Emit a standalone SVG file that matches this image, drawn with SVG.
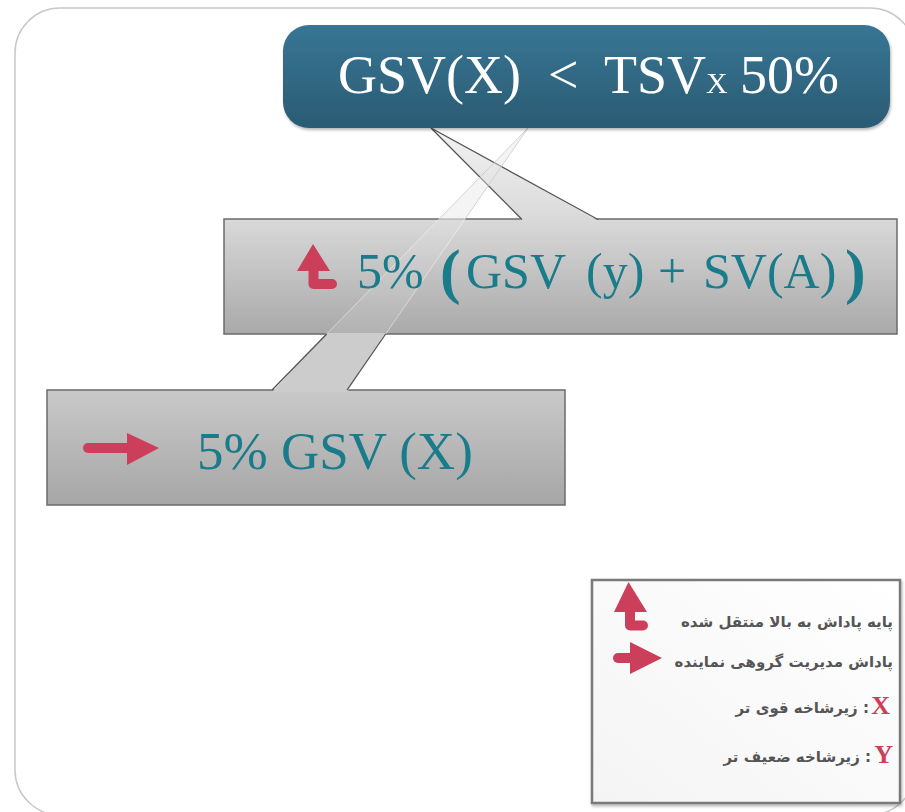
<svg xmlns="http://www.w3.org/2000/svg" width="905" height="812" viewBox="0 0 905 812">
<style>
.serif{font-family:"Liberation Serif","Times New Roman",serif}
.teal{fill:#1a7b8b}
.fa{font-family:"DejaVu Sans","Noto Sans",sans-serif;font-weight:bold;font-size:15px;fill:#555}
.red{fill:#cc3f5a}
.redS{stroke:#cc3f5a;fill:none}
.edge{stroke:#555;stroke-width:1.3;fill:none}
.boxS{stroke:#6b6b6b;stroke-width:1.5}
</style>
<defs>
<linearGradient id="gTop" x1="0" y1="0" x2="0" y2="1"><stop offset="0" stop-color="#377694"/><stop offset="1" stop-color="#2b5b73"/></linearGradient>
<linearGradient id="gMid" x1="0" y1="0" x2="0" y2="1"><stop offset="0" stop-color="#d9d9d9"/><stop offset="1" stop-color="#a9a9a9"/></linearGradient>
<linearGradient id="gBot" x1="0" y1="0" x2="0" y2="1"><stop offset="0" stop-color="#c9c9c9"/><stop offset="1" stop-color="#a6a6a6"/></linearGradient>
<linearGradient id="gCall" gradientUnits="userSpaceOnUse" x1="0" y1="128" x2="0" y2="221"><stop offset="0" stop-color="#f3f3f3"/><stop offset="1" stop-color="#d9d9d9"/></linearGradient>
<linearGradient id="gLeg" x1="1" y1="0" x2="0" y2="1"><stop offset="0" stop-color="#ffffff"/><stop offset="1" stop-color="#f4f4f4"/></linearGradient>
<filter id="sh" x="-5%" y="-5%" width="110%" height="115%"><feGaussianBlur in="SourceAlpha" stdDeviation="1.5"/><feOffset dx="1" dy="2"/><feComponentTransfer><feFuncA type="linear" slope="0.3"/></feComponentTransfer><feMerge><feMergeNode/><feMergeNode in="SourceGraphic"/></feMerge></filter>
</defs>
<rect x="0" y="0" width="905" height="812" fill="#fff"/>
<rect id="frame" x="15" y="8" width="900" height="807" rx="45" fill="#fff" stroke="#c8c8c8" stroke-width="1.5"/>

<g id="node-mid">
<rect x="224" y="219" width="673" height="115" fill="url(#gMid)" class="boxS"/>
</g>

<g id="connectors">
<polygon points="431,128 522,220.5 598,220.5" fill="url(#gCall)"/>
<polyline points="522,219.5 431,128 598,219.5" class="edge"/>
<polygon points="528,128 439.1,219 465.1,219" fill="#e6e6e6" fill-opacity="0.45" stroke="#c9c9c9" stroke-opacity="0.8" stroke-width="1"/>
<polygon points="439.1,219 465.1,219 385.7,334 326.7,334" fill="#fff" fill-opacity="0.1" stroke="#fff" stroke-opacity="0.45" stroke-width="1"/>
</g>

<g id="node-top" filter="url(#sh)">
<rect x="283" y="25" width="607" height="103" rx="26" fill="url(#gTop)"/>
<text class="serif" font-size="54" fill="#fff" y="93"><tspan x="338">GSV(X)</tspan><tspan x="548">&lt;</tspan><tspan x="604">TSV</tspan><tspan x="706" font-size="30">X</tspan><tspan x="740">50%</tspan></text>
</g>

<g id="node-mid-content">
<polygon points="297,271 313,244 330,271" class="red"/>
<path d="M313.5,268 V284 H332" class="redS" stroke-width="10" stroke-linejoin="round" stroke-linecap="round"/>
<text class="serif teal" font-size="50" y="288"><tspan x="357">5%</tspan><tspan x="466">GSV</tspan><tspan x="586">(y)</tspan><tspan x="658">+</tspan><tspan x="703">SV(A)</tspan></text>
<text class="serif teal" font-size="62" font-weight="bold" y="292"><tspan x="440">(</tspan><tspan x="845">)</tspan></text>
</g>

<g id="node-bottom">
<rect x="47" y="390" width="518" height="115" fill="url(#gBot)" class="boxS"/>
<polygon points="326.7,333 385.7,333 347,392 272,392" fill="#cccccc"/>
<line x1="326.7" y1="334" x2="272" y2="390" class="edge"/>
<line x1="385.7" y1="334" x2="347" y2="390" class="edge"/>
<line x1="88" y1="448" x2="132" y2="448" class="redS" stroke-width="10" stroke-linecap="round"/>
<polygon points="127,433 159,448 127,465" class="red"/>
<text class="serif teal" font-size="53" x="197" y="469">5% GSV (X)</text>
</g>

<g id="legend">
<rect x="592" y="580" width="308" height="223" fill="url(#gLeg)" stroke="#7a7a7a" stroke-width="2.5" filter="url(#sh)"/>
<polygon points="614,612 628.5,582 647,612" class="red"/>
<path d="M630,608 V625.5 H643" class="redS" stroke-width="10" stroke-linejoin="round" stroke-linecap="round"/>
<text class="fa" x="893" y="627" text-anchor="end">پایه پاداش به بالا منتقل شده</text>
<line x1="618" y1="658" x2="636" y2="658" class="redS" stroke-width="10" stroke-linecap="round"/>
<polygon points="630,642 662,658 630,674" class="red"/>
<text class="fa" x="893" y="667" text-anchor="end">پاداش مدیریت گروهی نماینده</text>
<text class="serif" font-size="26" font-weight="bold" fill="#cc3f5a" x="890" y="714" text-anchor="end">X</text>
<text class="fa" x="869" y="713" text-anchor="end">زیرشاخه قوی تر :</text>
<text class="serif" font-size="26" font-weight="bold" fill="#cc3f5a" x="893" y="763" text-anchor="end">Y</text>
<text class="fa" x="871" y="762" text-anchor="end">زیرشاخه ضعیف تر :</text>
</g>
</svg>
